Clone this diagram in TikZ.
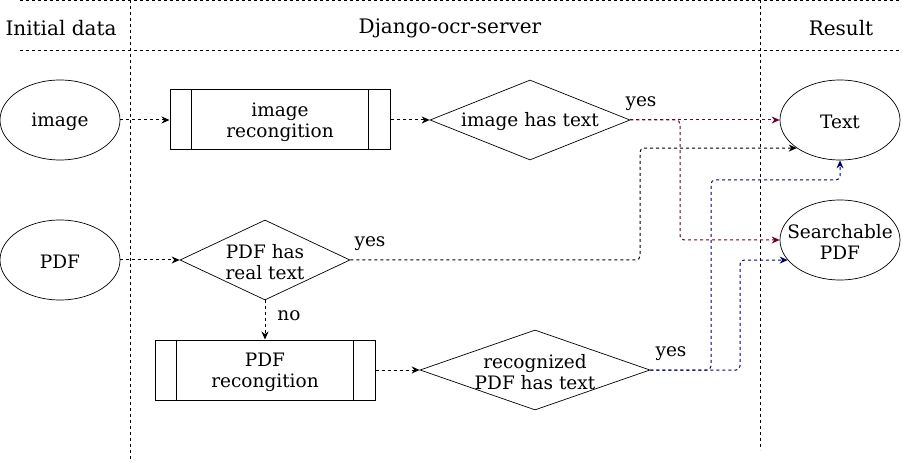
\documentclass[tikz,border=0pt]{standalone}
\usepackage{fontspec}
\setmainfont{DejaVu Serif}
\usetikzlibrary{shapes.geometric,arrows.meta}
\definecolor{maroonc}{HTML}{660033}
\definecolor{navyc}{HTML}{000066}
\begin{document}
\begin{tikzpicture}[x=1pt,y=-1pt,
  every node/.style={font=\fontsize{18.5}{21}\selectfont},
  every label/.style={align=center,inner sep=0pt,yshift=-2pt},
  hdr/.style={inner sep=0pt,yshift=-2pt,font=\fontsize{20}{22}\selectfont},
  ell/.style={draw,ellipse,line width=0.7pt,minimum width=120pt,minimum height=80pt,inner sep=0pt},
  dia/.style={draw,diamond,line width=0.7pt,aspect=2.5,inner sep=0pt},
  proc/.style={draw,rectangle,line width=1pt,minimum width=220pt,minimum height=60pt,inner sep=0pt},
  sep/.style={dash pattern=on 3pt off 3pt,line width=0.7pt},
  conn/.style={dash pattern=on 3pt off 3pt,line width=1pt,-{Stealth[length=8pt,width=7pt]},rounded corners=4pt},
  lbl/.style={inner sep=0pt,yshift=-3pt}
]
\useasboundingbox (0,0) rectangle (902,462);
% separators
\draw[sep] (20,0.5) -- (902,0.5);
\draw[sep] (20,50) -- (900,50);
\draw[sep] (130,0) -- (130,462);
\draw[sep] (760,0) -- (760,450);
\node[hdr] (h1) at (61,26) {Initial data};
\node[hdr] (h2) at (450,26) {Django-ocr-server};
\node[hdr] (h3) at (841,26) {Result};
% nodes
\node[ell,label=center:image] (img) at (60,120) {};
\node[ell,label=center:PDF] (pdf) at (60,260) {};
\node[proc,label={center:image\\recongition}] (p1) at (280,120) {};
\draw[line width=1pt] ([xshift=22pt]p1.north west) -- ([xshift=22pt]p1.south west);
\draw[line width=1pt] ([xshift=-22pt]p1.north east) -- ([xshift=-22pt]p1.south east);
\node[dia,minimum width=200pt,minimum height=80pt,label=center:image has text] (d1) at (530,120) {};
\node[ell,label=center:Text] (txt) at (840,120) {};
\node[ell,label={center:Searchable\\PDF}] (spdf) at (840,240) {};
\node[dia,minimum width=170pt,minimum height=80pt,label={center:PDF has\\real text}] (d2) at (265,260) {};
\node[proc,label={center:PDF\\recongition}] (p2) at (265,370) {};
\draw[line width=1pt] ([xshift=22pt]p2.north west) -- ([xshift=22pt]p2.south west);
\draw[line width=1pt] ([xshift=-22pt]p2.north east) -- ([xshift=-22pt]p2.south east);
\node[dia,minimum width=230pt,minimum height=80pt,label={center:recognized\\PDF has text}] (d3) at (535,370) {};
% labels
\node[lbl] (y1) at (641,101) {yes};
\node[lbl] (y2) at (370,241) {yes};
\node[lbl] (y3) at (671,351) {yes};
\node[lbl] (n1) at (289,313) {no};
% connectors
\draw[conn] (img.east) -- (p1.west);
\draw[conn] (p1.east) -- (d1.west);
\draw[conn] (pdf.east) -- (d2.west);
\draw[conn] (d2.south) -- (p2.north);
\draw[conn] (p2.east) -- (d3.west);
\draw[conn,draw=maroonc] (d1.east) -- (txt.west);
\draw[conn,draw=maroonc] (d1.east) -- (680,120) |- (spdf.west);
\draw[conn] (d2.east) -- (640,260) |- (txt.213);
\draw[conn,draw=navyc] (d3.east) -- (711,370) -- (711,180) -| (txt.south);
\draw[conn,draw=navyc] (d3.east) -- (740,370) |- (spdf.201);
\end{tikzpicture}
\end{document}
